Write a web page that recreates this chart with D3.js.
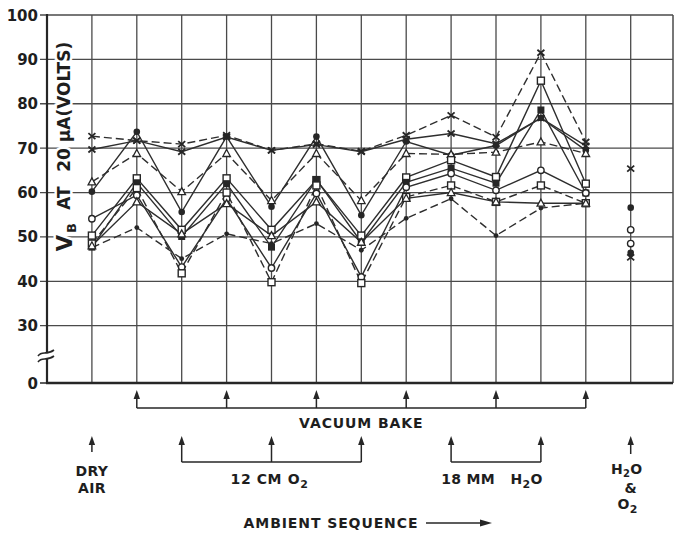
<!DOCTYPE html>
<html>
<head>
<meta charset="utf-8">
<script src="https://cdn.jsdelivr.net/npm/d3@7"></script>
<style>
body { margin: 0; background: #fff; }
text { font-family: "DejaVu Sans", sans-serif; font-weight: bold; fill: #1e1e1e; white-space: pre; }
</style>
</head>
<body>
<div id="chart"></div>
<script>
// stage index along the ambient sequence
var stages = [1, 2, 3, 4, 5, 6, 7, 8, 9, 10, 11, 12];

// V_B readings (volts) per device
var xDashed   = [72.7, 71.7, 70.9, 72.9, 69.5, 71.0, 69.3, 72.9, 77.4, 72.5, 91.5, 71.4];
var xSolid    = [69.7, 71.7, 69.2, 72.5, 69.5, 70.8, 69.2, 72.0, 73.3, 71.0, 76.8, 70.5];
var dotSolid  = [60.2, 73.7, 55.6, 72.6, 56.8, 72.6, 54.9, 71.5, 68.4, 70.6, 76.8, 69.5];
var triDashed = [62.4, 68.8, 60.2, 68.8, 58.2, 68.8, 58.2, 68.8, 68.6, 69.1, 71.4, 68.8];
var sqSolid   = [50.3, 63.2, 51.6, 63.2, 51.6, 62.8, 50.3, 63.4, 67.3, 63.5, 85.2, 62.0];
var fsqSolid  = [47.7, 62.2, 50.1, 62.0, 47.7, 62.9, 48.8, 62.3, 65.5, 62.1, 78.6, 59.9];
var circSolid = [54.1, 59.4, 43.2, 58.6, 43.0, 59.8, 41.0, 61.2, 64.3, 60.5, 65.0, 59.9];
var sqDashed  = [48.5, 61.0, 41.8, 60.0, 39.8, 61.6, 39.6, 59.0, 61.6, 57.9, 61.6, 57.6];
var dotDashed = [47.6, 52.1, 45.1, 50.7, 48.5, 53.0, 47.0, 54.2, 58.6, 50.3, 56.5, 57.6];
var triSolid  = [48.0, 57.9, 50.7, 57.5, 50.3, 57.9, 48.8, 58.7, 60.0, 57.9, 57.6, 57.6];

// H2O & O2 readings (last stage, unconnected)
var mixStage = 13;
var mixValues = [65.4, 56.6, 51.6, 48.5, 46.4, 45.4];
var mixMarks  = ["x", "dot", "circle", "circle", "dot", "x"];

var yTicks = [0, 30, 40, 50, 60, 70, 80, 90, 100];
var gridValues = [30, 40, 50, 60, 70, 80, 90, 100];

var bakeStages = [2, 4, 6, 8, 10, 12];
var o2Stages = [3, 5, 7];
var h2oStages = [9, 11];
var dryStage = 1;

var series = [
  { v: xDashed,   mark: "x",      dash: true },
  { v: xSolid,    mark: "x",      dash: false },
  { v: dotSolid,  mark: "dot",    dash: false },
  { v: triDashed, mark: "tri",    dash: true },
  { v: sqSolid,   mark: "square", dash: false },
  { v: fsqSolid,  mark: "fsquare",dash: false },
  { v: circSolid, mark: "circle", dash: false },
  { v: sqDashed,  mark: "square", dash: true },
  { v: dotDashed, mark: "small",  dash: true },
  { v: triSolid,  mark: "tri",    dash: false }
];

var w = 680, h = 541;
var padL = 47, padR = 673, padT = 15, padB = 383;
var ink = "#262626";

var svg = d3.select("#chart").append("svg")
    .attr("width", w)
    .attr("height", h);

var x = d3.scaleLinear().domain([0, 14]).range([padL, padL + 44.9 * 14]);
var y = d3.scaleLinear().domain([0, 30, 100]).range([padB, 325.7, padT]);

// grid
svg.append("g").selectAll("line")
    .data(gridValues)
    .enter().append("line")
    .attr("x1", padL - 7).attr("x2", padR)
    .attr("y1", function(d){ return y(d); })
    .attr("y2", function(d){ return y(d); })
    .attr("stroke", "#4a4a4a").attr("stroke-width", 1.3);

svg.append("g").selectAll("line")
    .data(stages.concat([mixStage]))
    .enter().append("line")
    .attr("x1", function(d){ return x(d); })
    .attr("x2", function(d){ return x(d); })
    .attr("y1", padT).attr("y2", padB)
    .attr("stroke", "#4a4a4a").attr("stroke-width", 1.3);

svg.append("line").attr("x1", padR).attr("x2", padR).attr("y1", padT).attr("y2", padB)
    .attr("stroke", "#4a4a4a").attr("stroke-width", 1.5);

// axes
svg.append("line").attr("x1", padL).attr("x2", padL).attr("y1", padT - 1).attr("y2", padB + 1)
    .attr("stroke", ink).attr("stroke-width", 2.2);
svg.append("line").attr("x1", padL - 1).attr("x2", padR).attr("y1", padB).attr("y2", padB)
    .attr("stroke", ink).attr("stroke-width", 2.4);
svg.append("line").attr("x1", padL - 7).attr("x2", padL).attr("y1", padB).attr("y2", padB)
    .attr("stroke", ink).attr("stroke-width", 1.5);

// axis break
svg.append("rect").attr("x", padL - 3).attr("y", 352).attr("width", 6).attr("height", 7).attr("fill", "#fff");
[0, 6].forEach(function(o){
  svg.append("path")
    .attr("d", "M38," + (356 + o) + " C42," + (350 + o) + " 46," + (356 + o) + " 54," + (350 + o))
    .attr("fill", "none").attr("stroke", ink).attr("stroke-width", 1.6);
});

svg.append("g").selectAll("text")
    .data(yTicks)
    .enter().append("text")
    .attr("x", 38)
    .attr("y", function(d){ return y(d) + 5.5; })
    .attr("text-anchor", "end")
    .attr("font-size", 15)
    .text(function(d){ return d; });

// y axis title
var yl = svg.append("g").attr("class", "ylabel");
function ytext(txt, cy, size, bx){
  yl.append("text")
    .attr("transform", "translate(" + bx + "," + cy + ") rotate(-90)")
    .attr("text-anchor", "middle")
    .attr("font-size", size)
    .attr("stroke", "#fff").attr("stroke-width", 5).attr("paint-order", "stroke")
    .text(txt);
}
ytext("V", 243, 21, 72);
ytext("B", 228, 13, 76);
ytext("AT", 198, 17, 70);
ytext("20", 160, 17, 70);
ytext("\u03bcA(VOLTS)", 92, 17, 70);

// data lines
var line = d3.line()
    .x(function(d, i){ return x(stages[i]); })
    .y(function(d){ return y(d); });

svg.append("g").selectAll("path")
    .data(series)
    .enter().append("path")
    .attr("d", function(s){ return line(s.v); })
    .attr("fill", "none")
    .attr("stroke", "#2e2e2e")
    .attr("stroke-width", 1.4)
    .attr("stroke-dasharray", function(s){ return s.dash ? "8,4" : null; });

function marker(g, type, cx, cy){
  if (type === "x") {
    g.append("path").attr("d", "M" + (cx - 3.5) + "," + (cy - 3) + "L" + (cx + 3.5) + "," + (cy + 3) +
        "M" + (cx - 3.5) + "," + (cy + 3) + "L" + (cx + 3.5) + "," + (cy - 3))
      .attr("stroke", ink).attr("stroke-width", 1.8);
  } else if (type === "dot") {
    g.append("circle").attr("cx", cx).attr("cy", cy).attr("r", 3.3).attr("fill", ink);
  } else if (type === "small") {
    g.append("circle").attr("cx", cx).attr("cy", cy).attr("r", 2.4).attr("fill", ink);
  } else if (type === "circle") {
    g.append("circle").attr("cx", cx).attr("cy", cy).attr("r", 3.2)
      .attr("fill", "#fff").attr("stroke", ink).attr("stroke-width", 1.4);
  } else if (type === "square") {
    g.append("rect").attr("x", cx - 3.5).attr("y", cy - 3.5).attr("width", 7).attr("height", 7)
      .attr("fill", "#fff").attr("stroke", ink).attr("stroke-width", 1.4);
  } else if (type === "fsquare") {
    g.append("rect").attr("x", cx - 3.5).attr("y", cy - 3.5).attr("width", 7).attr("height", 7)
      .attr("fill", ink);
  } else if (type === "tri") {
    g.append("path").attr("d", "M" + cx + "," + (cy - 4) + "L" + (cx + 3.8) + "," + (cy + 3) + "L" + (cx - 3.8) + "," + (cy + 3) + "Z")
      .attr("fill", "#fff").attr("stroke", ink).attr("stroke-width", 1.3);
  }
}

var mg = svg.append("g");
series.forEach(function(s){
  s.v.forEach(function(v, i){ marker(mg, s.mark, x(stages[i]), y(v)); });
});
mixValues.forEach(function(v, i){ marker(mg, mixMarks[i], x(mixStage), y(v)); });

// ambient sequence annotations
var ann = svg.append("g");
function arrow(sx, tip, base){
  ann.append("line").attr("x1", sx).attr("x2", sx).attr("y1", tip + 6).attr("y2", base)
    .attr("stroke", ink).attr("stroke-width", 1.5);
  ann.append("path").attr("d", "M" + sx + "," + tip + "L" + (sx + 3.2) + "," + (tip + 9) + "L" + (sx - 3.2) + "," + (tip + 9) + "Z")
    .attr("fill", ink);
}
function bracket(list, tip, base){
  list.forEach(function(s){ arrow(x(s), tip, base); });
  if (list.length > 1) {
    ann.append("line").attr("x1", x(list[0])).attr("x2", x(list[list.length - 1]))
      .attr("y1", base).attr("y2", base).attr("stroke", ink).attr("stroke-width", 1.5);
  }
}
bracket(bakeStages, 390, 408);
bracket(o2Stages, 436, 462);
bracket(h2oStages, 436, 462);
arrow(x(dryStage), 436, 452);
arrow(x(mixStage), 436, 454);

function label(txt, cx, by, size, ls){
  return ann.append("text").attr("x", cx).attr("y", by).attr("text-anchor", "middle")
    .attr("font-size", size || 14).attr("letter-spacing", ls || 0.3).text(txt);
}
label("VACUUM BAKE", x(7), 428, 14, 0.9);
label("DRY", x(dryStage), 476);
label("AIR", x(dryStage), 493);

var t1 = label("12 CM O", x(5) - 2, 484, 14, 0.6);
t1.append("tspan").attr("dy", 4).attr("font-size", 11).text("2");
var t2 = label("18 MM   H", x(10) - 4, 484, 14, 0.3);
t2.append("tspan").attr("dy", 4).attr("font-size", 11).text("2");
t2.append("tspan").attr("dy", -4).text("O");

var t3 = label("H", x(mixStage) - 4, 474, 14, 0.3);
t3.append("tspan").attr("dy", 3).attr("font-size", 10).text("2");
t3.append("tspan").attr("dy", -3).text("O");
label("&", x(mixStage), 493);
var t4 = label("O", x(mixStage) - 3, 509, 14, 0.3);
t4.append("tspan").attr("dy", 4).attr("font-size", 11).text("2");

label("AMBIENT SEQUENCE", 331, 528, 14, 0.9);
ann.append("line").attr("x1", 426).attr("x2", 482).attr("y1", 523).attr("y2", 523)
  .attr("stroke", ink).attr("stroke-width", 1.6);
ann.append("path").attr("d", "M492,523 L480,519.5 L480,526.5 Z").attr("fill", ink);
</script>
</body>
</html>
